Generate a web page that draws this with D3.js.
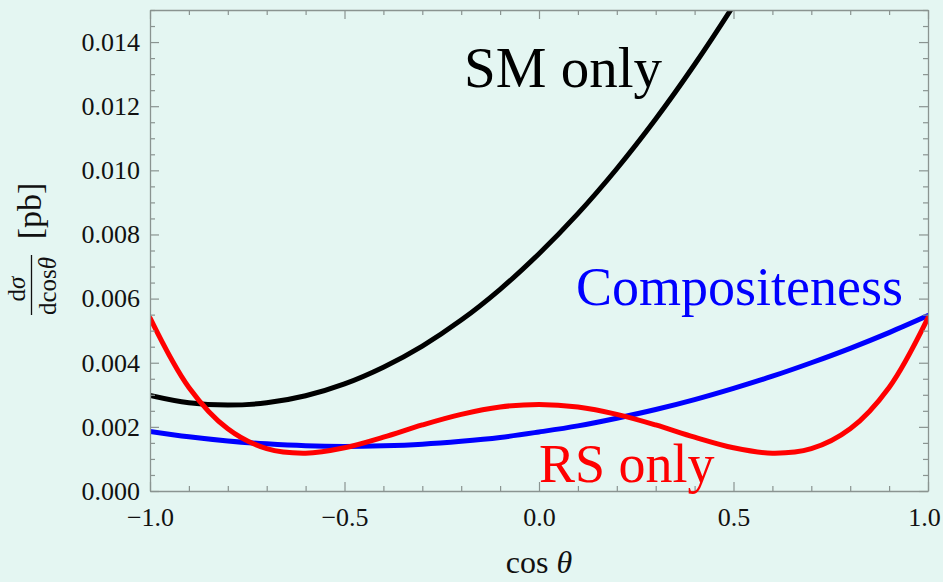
<!DOCTYPE html>
<html>
<head>
<meta charset="utf-8">
<script src="https://cdn.jsdelivr.net/npm/d3@7"></script>
<style>
  html, body { margin: 0; padding: 0; background: #e4f6f2; }
  svg { display: block; }
  text { font-family: "Liberation Serif", "DejaVu Serif", serif; }
</style>
</head>
<body>
<svg id="chart" width="943" height="582"></svg>
<script>
// Angular distribution dσ/dcosθ for three scenarios
const cosTheta = [-1.0, -0.9, -0.8, -0.7, -0.6, -0.5, -0.4, -0.3, -0.2, -0.1,
                  0.0, 0.1, 0.2, 0.3, 0.4, 0.5, 0.6, 0.7, 0.8, 0.9, 1.0];

const smOnly = [0.00298, 0.00275, 0.00268, 0.00275, 0.00297, 0.00334, 0.00386,
                0.00452, 0.00533, 0.00629, 0.00740, 0.00865, 0.01005, 0.01160,
                0.01330, 0.01514, 0.01710, null, null, null, null];

const compositeness = [0.00186, 0.00169, 0.00156, 0.00147, 0.00141, 0.00139,
                       0.00141, 0.00146, 0.00155, 0.00167, 0.00184, 0.00203,
                       0.00227, 0.00254, 0.00285, 0.00320, 0.00358, 0.00400,
                       0.00445, 0.00494, 0.00547];

const rsOnly = [0.00540, 0.00323, 0.00194, 0.00132, 0.00118, 0.00135, 0.00168,
                0.00206, 0.00239, 0.00262, 0.00270, 0.00262, 0.00239, 0.00206,
                0.00168, 0.00135, 0.00118, 0.00132, 0.00194, 0.00323, 0.00540];

const seriesNames = ["SM only", "Compositeness", "RS only"];
const seriesColors = ["#000000", "#0000ff", "#ff0000"];

const xMajorTicks = [-1.0, -0.5, 0.0, 0.5, 1.0];
const yMajorTicks = [0.000, 0.002, 0.004, 0.006, 0.008, 0.010, 0.012, 0.014];

const svg = d3.select("#chart");
const margin = { left: 150, top: 10, right: 15, bottom: 91 };
const W = 943, H = 582;
const iw = W - margin.left - margin.right;   // 778
const ih = H - margin.top - margin.bottom;   // 481

const x = d3.scaleLinear().domain([-1, 1]).range([0, iw]);
const y = d3.scaleLinear().domain([0, 0.015]).range([ih, 0]);

const g = svg.append("g").attr("transform", `translate(${margin.left},${margin.top})`);

g.append("defs").append("clipPath").attr("id", "plot-clip")
  .append("rect").attr("width", iw).attr("height", ih);

// Curves
const allSeries = [smOnly, compositeness, rsOnly];
const line = d3.line()
  .defined(d => d[1] !== null)
  .x(d => x(d[0]))
  .y(d => y(d[1]))
  .curve(d3.curveCatmullRom.alpha(0.5));

const curves = g.append("g").attr("clip-path", "url(#plot-clip)");
allSeries.forEach((vals, i) => {
  curves.append("path")
    .datum(cosTheta.map((c, j) => [c, vals[j]]))
    .attr("fill", "none")
    .attr("stroke", seriesColors[i])
    .attr("stroke-width", 5)
    .attr("stroke-linecap", "round")
    .attr("d", line);
});

// Frame with inward major and minor ticks on all sides
const frameColor = "#8a9491";
const xMinor = d3.range(-10, 11).map(k => k / 10).filter(v => !xMajorTicks.some(t => Math.abs(t - v) < 1e-9));
const yMinor = d3.range(0, 31).map(k => k * 0.0005).filter(v => !yMajorTicks.some(t => Math.abs(t - v) < 1e-9));

function styleAxis(sel) {
  sel.selectAll("path.domain").attr("stroke", frameColor).attr("stroke-width", 1.3);
  sel.selectAll(".tick line").attr("stroke", frameColor).attr("stroke-width", 1.2);
  sel.selectAll(".tick text")
    .attr("fill", "#111")
    .style("font-family", '"Liberation Serif", "DejaVu Serif", serif')
    .style("font-size", "26px");
}

// bottom
const xb = g.append("g").attr("transform", `translate(0,${ih})`)
  .call(d3.axisBottom(x).tickValues(xMajorTicks).tickSize(-9).tickSizeOuter(0)
    .tickPadding(14).tickFormat(d3.format(".1f")));
styleAxis(xb);
xb.selectAll(".tick text").attr("dy", "0.82em")
  .attr("dx", d => d === 1 ? -4 : 0);
const xbm = g.append("g").attr("transform", `translate(0,${ih})`)
  .call(d3.axisBottom(x).tickValues(xMinor).tickSize(-5).tickSizeOuter(0).tickFormat(""));
xbm.select("path.domain").remove(); styleAxis(xbm);

// top
const xt = g.append("g")
  .call(d3.axisTop(x).tickValues(xMajorTicks).tickSize(-9).tickSizeOuter(0).tickFormat(""));
styleAxis(xt);
const xtm = g.append("g")
  .call(d3.axisTop(x).tickValues(xMinor).tickSize(-5).tickSizeOuter(0).tickFormat(""));
xtm.select("path.domain").remove(); styleAxis(xtm);

// left
const yl = g.append("g")
  .call(d3.axisLeft(y).tickValues(yMajorTicks).tickSize(-9).tickSizeOuter(0)
    .tickPadding(10).tickFormat(d3.format(".3f")));
styleAxis(yl);
const ylm = g.append("g")
  .call(d3.axisLeft(y).tickValues(yMinor).tickSize(-5).tickSizeOuter(0).tickFormat(""));
ylm.select("path.domain").remove(); styleAxis(ylm);

// right
const yr = g.append("g").attr("transform", `translate(${iw},0)`)
  .call(d3.axisRight(y).tickValues(yMajorTicks).tickSize(-9).tickSizeOuter(0).tickFormat(""));
styleAxis(yr);
const yrm = g.append("g").attr("transform", `translate(${iw},0)`)
  .call(d3.axisRight(y).tickValues(yMinor).tickSize(-5).tickSizeOuter(0).tickFormat(""));
yrm.select("path.domain").remove(); styleAxis(yrm);

// Series labels
const labels = [
  { text: seriesNames[0], color: seriesColors[0], x: 464, y: 87, size: 57 },
  { text: seriesNames[1], color: seriesColors[1], x: 576, y: 305, size: 54 },
  { text: seriesNames[2], color: seriesColors[2], x: 539, y: 482, size: 54 }
];
svg.selectAll("text.series-label").data(labels).enter().append("text")
  .attr("class", "series-label")
  .attr("x", d => d.x).attr("y", d => d.y)
  .attr("fill", d => d.color)
  .style("font-size", d => d.size + "px")
  .text(d => d.text);

// x-axis title
const xTitle = svg.append("text")
  .attr("x", 539).attr("y", 573)
  .attr("text-anchor", "middle")
  .attr("fill", "#111")
  .style("font-size", "32px");
xTitle.append("tspan").text("cos ");
xTitle.append("tspan").style("font-style", "italic").text("θ");

// y-axis title: fraction dσ / dcosθ followed by [pb]
const yTitle = svg.append("g").attr("transform", "rotate(-90)");
yTitle.append("text")
  .attr("x", -289).attr("y", 25)
  .attr("text-anchor", "middle").attr("fill", "#111")
  .style("font-size", "25px")
  .call(t => { t.append("tspan").text("d"); t.append("tspan").style("font-style", "italic").text("σ"); });
yTitle.append("line")
  .attr("x1", -315).attr("x2", -255)
  .attr("y1", 31.5).attr("y2", 31.5)
  .attr("stroke", "#111").attr("stroke-width", 1.3);
yTitle.append("text")
  .attr("x", -286).attr("y", 56)
  .attr("text-anchor", "middle").attr("fill", "#111")
  .style("font-size", "25px")
  .call(t => { t.append("tspan").text("dcos"); t.append("tspan").style("font-style", "italic").text("θ"); });
yTitle.append("text")
  .attr("x", -211).attr("y", 41)
  .attr("text-anchor", "middle").attr("fill", "#111")
  .style("font-size", "34px")
  .text("[pb]");
</script>
</body>
</html>
